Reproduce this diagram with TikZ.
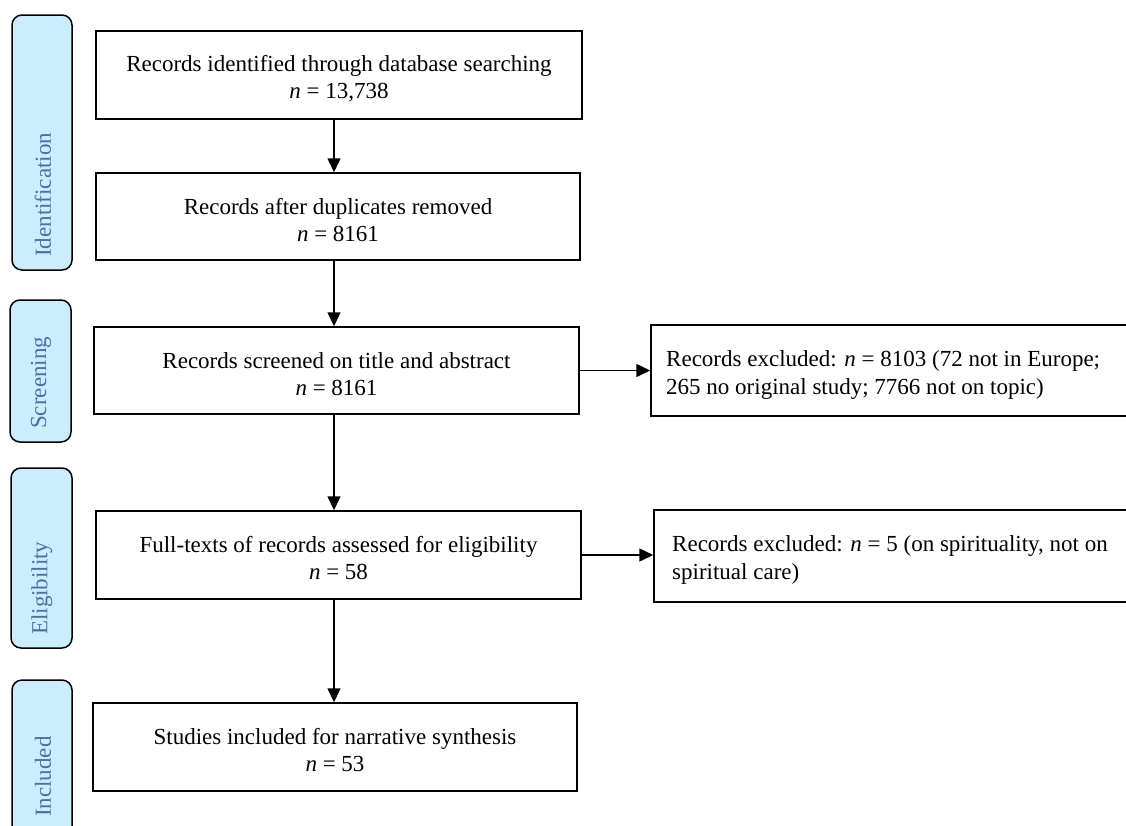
\documentclass[tikz,border=0pt]{standalone}
\usepackage{fontspec}
\setmainfont{Liberation Serif}
\usetikzlibrary{arrows.meta}
\definecolor{pillfill}{RGB}{204,236,255}
\definecolor{pilltext}{RGB}{79,110,160}
\newcommand{\topstrut}{\rule{0pt}{23pt}}
\tikzset{
  box/.style={draw=black, line width=1.5pt, rectangle, inner sep=0pt, align=center,
    font=\fontsize{23}{27}\selectfont, text=black},
  extext/.style={inner sep=0pt, align=left, anchor=west, font=\fontsize{23}{28}\selectfont},
  exbox/.style={draw=black, line width=1.5pt, rectangle, inner sep=0pt},
  pill/.style={draw=black, line width=1.5pt, fill=pillfill, rounded corners=10pt},
  phase/.style={rotate=90, anchor=west, inner sep=0pt, text=pilltext,
    font=\fontsize{23}{27}\selectfont},
  arr/.style={line width=1.5pt, -{Triangle[length=14pt,width=13pt]}}
}
\begin{document}
\begin{tikzpicture}[x=1pt,y=-1pt]
\useasboundingbox (0,0) rectangle (1126,825);
\clip (0,0) rectangle (1126,825);
% phase pills
\draw[pill] (12,15) rectangle (72,270);
\node[phase] (p1) at (43,257) {Identification};
\draw[pill] (10,300) rectangle (71,442);
\node[phase] (p2) at (41,429) {Screening};
\draw[pill] (11,468) rectangle (72,648);
\node[phase] (p3) at (42,635) {Eligibility};
\draw[pill] (12,680) rectangle (72,840);
\node[phase] (p4) at (43,817) {Included};
% main boxes
\node[box, minimum width=486pt, minimum height=88pt] (b1) at (339,75)
  {\topstrut Records identified through database searching\\\textit{n} = 13,738};
\node[box, minimum width=484pt, minimum height=87pt] (b2) at (338,216.5)
  {\topstrut Records after duplicates removed\\\textit{n} = 8161};
\node[box, minimum width=485pt, minimum height=87pt] (b3) at (336.5,370.5)
  {\topstrut Records screened on title and abstract\\\textit{n} = 8161};
\node[box, minimum width=485pt, minimum height=88pt] (b4) at (338.5,555)
  {\topstrut Full-texts of records assessed for eligibility\\\textit{n} = 58};
\node[box, minimum width=484pt, minimum height=88pt] (b5) at (335,747)
  {\topstrut Studies included for narrative synthesis\\\textit{n} = 53};
% exclusion boxes
\node[exbox, minimum width=500pt, minimum height=91pt] (e1) at (901,370.5) {};
\node[extext] (t1) at (666,375)
  {Records excluded: \textit{n} = 8103 (72 not in Europe;\\265 no original study; 7766 not on topic)};
\node[exbox, minimum width=500pt, minimum height=92pt] (e2) at (904,556) {};
\node[extext] (t2) at (672,560)
  {Records excluded: \textit{n} = 5 (on spirituality, not on\\spiritual care)};
% arrows
\coordinate (ax) at (334,0);
\draw[arr] (b1.south -| ax) -- (b2.north -| ax);
\draw[arr] (b2.south -| ax) -- (b3.north -| ax);
\draw[arr] (b3.south -| ax) -- (b4.north -| ax);
\draw[arr] (b4.south -| ax) -- (b5.north -| ax);
\draw[arr] (b3.east) -- (b3.east -| e1.west);
\draw[arr] (b4.east) -- (b4.east -| e2.west);
\end{tikzpicture}
\end{document}
